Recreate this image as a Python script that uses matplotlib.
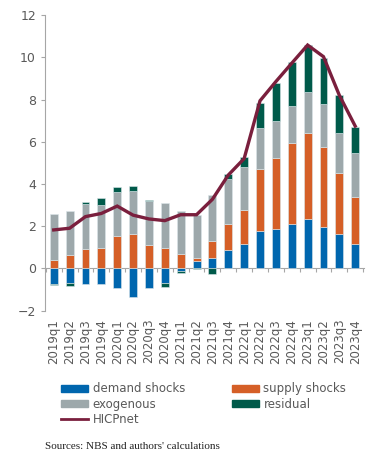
import numpy as np
import matplotlib
matplotlib.use("Agg")
import matplotlib.pyplot as plt
from matplotlib.patches import Patch
from matplotlib.lines import Line2D

quarters = ["2019q1", "2019q2", "2019q3", "2019q4", "2020q1", "2020q2", "2020q3", "2020q4",
            "2021q1", "2021q2", "2021q3", "2021q4", "2022q1", "2022q2", "2022q3", "2022q4",
            "2023q1", "2023q2", "2023q3", "2023q4"]
demand = [-0.74, -0.71, -0.74, -0.74, -0.92, -1.37, -0.93, -0.71, -0.15, 0.36,
          0.49, 0.85, 1.17, 1.77, 1.86, 2.10, 2.32, 1.96, 1.61, 1.17]
supply = [0.41, 0.63, 0.93, 0.98, 1.53, 1.61, 1.10, 0.98, 0.68, 0.13,
          0.81, 1.27, 1.61, 2.95, 3.35, 3.82, 4.11, 3.81, 2.89, 2.21]
exogenous = [2.18, 2.09, 2.13, 2.04, 2.07, 2.07, 2.09, 2.13, 2.04, 2.06,
             2.17, 2.11, 2.04, 1.92, 1.79, 1.79, 1.94, 2.02, 1.91, 2.09]
residual = [-0.05, -0.13, 0.10, 0.33, 0.25, 0.24, 0.06, -0.19, -0.05, -0.04,
            -0.25, 0.24, 0.44, 1.21, 1.80, 2.05, 2.21, 2.19, 1.79, 1.24]
hicp = [1.82, 1.90, 2.45, 2.60, 2.95, 2.52, 2.34, 2.26, 2.54, 2.54,
        3.27, 4.42, 5.20, 7.94, 8.85, 9.72, 10.58, 10.03, 8.20, 6.74]

series = [("demand shocks", demand, "#0066AE"),
          ("supply shocks", supply, "#D55F27"),
          ("exogenous", exogenous, "#9DA8AB"),
          ("residual", residual, "#005A4A")]
line_color = "#7A1F3D"
text_color = "#595959"
axis_color = "#A6A6A6"

fig = plt.figure(figsize=(3.88, 4.58), dpi=100)
ax = fig.add_axes([0.116, 0.322, 0.822, 0.645])

x = np.arange(len(quarters))
pos_base = np.zeros(len(x))
neg_base = np.zeros(len(x))
for name, vals, col in series:
    v = np.array(vals)
    bottom = np.where(v >= 0, pos_base, neg_base)
    ax.bar(x, v, 0.5, bottom=bottom, color=col, edgecolor="#DCE6EA", linewidth=0.4)
    pos_base += np.where(v >= 0, v, 0)
    neg_base += np.where(v < 0, v, 0)

ax.plot(x, hicp, color=line_color, linewidth=2.4, solid_joinstyle="miter")

ax.set_xlim(-0.55, len(x) - 0.45)
ax.set_ylim(-2, 12)
ax.set_yticks(range(-2, 13, 2))
ax.tick_params(axis="y", colors=text_color, labelsize=9, length=3, color=axis_color)
ax.set_xticks(x)
ax.set_xticklabels(quarters, rotation=90, fontsize=8.5, color=text_color)
ax.tick_params(axis="x", length=0, pad=6)

for s in ["top", "right", "bottom"]:
    ax.spines[s].set_visible(False)
ax.spines["left"].set_color(axis_color)

# category axis drawn at zero
sec = ax.secondary_xaxis(2 / 14)
sec.set_xticks(np.arange(-0.5, len(x), 1.0))
sec.set_xticklabels([])
sec.tick_params(length=3, color=axis_color, direction="out")
sec.spines["bottom"].set_color(axis_color)

handles = [Patch(color="#0066AE", label="demand shocks"),
           Patch(color="#9DA8AB", label="exogenous"),
           Line2D([], [], color=line_color, linewidth=2, label="HICPnet"),
           Patch(color="#D55F27", label="supply shocks"),
           Patch(color="#005A4A", label="residual")]
fig.legend(handles=handles, ncol=2, loc="upper left", bbox_to_anchor=(0.158, 0.165),
           frameon=False, fontsize=8.5, labelcolor=text_color, handlelength=2.3,
           handleheight=0.55, handletextpad=0.35, columnspacing=4.0, labelspacing=0.2,
           borderpad=0, borderaxespad=0)

fig.text(0.116, 0.02, "Sources: NBS and authors' calculations", fontsize=8,
         family="Liberation Serif", color="#222222")

fig.savefig("out.png", dpi=100)
